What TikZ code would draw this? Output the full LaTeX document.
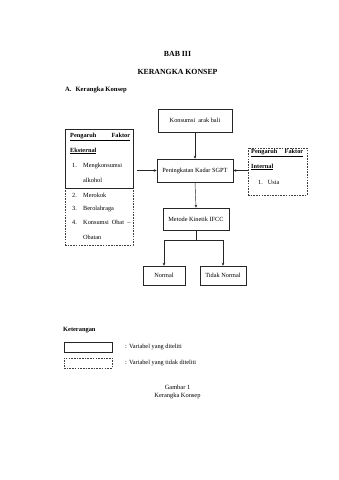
\documentclass[tikz,border=0pt]{standalone}
\usepackage{fontspec}
\setmainfont{Liberation Serif}
\usetikzlibrary{arrows.meta}
\tikzset{
  box/.style={draw=black!85, line width=0.5pt, inner sep=0pt, align=center, font=\fontsize{6.3}{7.4}\selectfont},
  dbox/.style={draw=black!75, line width=0.5pt, dash pattern=on 1.6pt off 1.1pt},
  sbox/.style={draw=black!85, line width=0.5pt},
  arr/.style={draw=black!85, line width=0.45pt, -{Stealth[length=3pt,width=2.6pt]}},
  ln/.style={draw=black!85, line width=0.45pt},
  txt/.style={inner sep=0pt, anchor=west, font=\fontsize{6.3}{7.4}\selectfont},
  ttl/.style={inner sep=0pt, font=\fontsize{7.8}{9}\selectfont\bfseries},
}
\begin{document}
\begin{tikzpicture}[x=1pt,y=-1pt]
\useasboundingbox (0,0) rectangle (339,480);
\fill[white] (0,0) rectangle (339,480);

% titles
\node[ttl] (bab) at (177.5,53.5) {BAB III};
\node[ttl] (kk) at (177.5,72) {KERANGKA KONSEP};
\node[txt, font=\fontsize{6.6}{8}\selectfont\bfseries] (sec) at (65,89.5) {A.\hspace{4pt}Kerangka Konsep};

% central boxes
\node[box, minimum width=74pt, minimum height=23pt] (kons) at (195,120.5) {Konsumsi\ \ arak bali};
\node[box, minimum width=76pt, minimum height=23pt] (pen) at (195,170.5) {Peningkatan Kadar SGPT};
\node[box, minimum width=66pt, minimum height=22pt] (ifcc) at (196,219) {Metode Kinetik IFCC};
\node[box, minimum width=42pt, minimum height=19pt] (nor) at (164,275.5) {Normal};
\node[box, minimum width=46pt, minimum height=19pt] (tnor) at (223,275.5) {Tidak Normal};

% left box (external factors)
\node[dbox, inner sep=0pt, minimum width=68pt, minimum height=116pt] (ext) at (99,187) {};
\draw[sbox] (65,129) rectangle (133,188);
\node[txt] (e1) at (70,137) {\underline{\makebox[60pt][s]{\bfseries Pengaruh\hfill Faktor}}};
\node[txt] (e2) at (70,151) {\underline{\bfseries Eksternal}};
\node[txt] (e3) at (72,166) {1.\hspace{6.3pt}Mengkonsumsi};
\node[txt] (e4) at (83,180) {alkohol};
\node[txt] (e5) at (72,195) {2.\hspace{6.3pt}Merokok};
\node[txt] (e6) at (72,208.5) {3.\hspace{6.3pt}Berolahraga};
\node[txt] (e7) at (72,222.5) {4.\hspace{6.3pt}Konsumsi\hspace{3pt}Obat\hspace{3.3pt}--};
\node[txt] (e8) at (83,237) {Obatan};

% right box (internal factors)
\node[dbox, inner sep=0pt, minimum width=59pt, minimum height=47pt] (int) at (277.5,171.5) {};
\node[txt] (i1) at (251,153) {\underline{\makebox[52pt][s]{\bfseries Pengaruh\hfill Faktor}}};
\node[txt] (i2) at (251,167) {\underline{\bfseries Internal}};
\node[txt] (i3) at (258,182) {1.\hspace{5pt}Usia};

% connectors
\coordinate (lstart) at (137,170.5);
\coordinate (rstart) at (248,170.5);
\draw[arr] (kons.south) -- (pen.north);
\draw[arr] (lstart) -- (pen.west);
\draw[arr] (rstart) -- (pen.east);
\draw[arr] (pen.south) -- (ifcc.north);
\coordinate (br) at (196,240);
\draw[ln] (ifcc.south) -- (br);
\draw[arr] (br) -| (nor.north);
\draw[arr] (br) -| (tnor.north);

% legend
\node[txt, font=\fontsize{6.4}{7.6}\selectfont\bfseries] (ket) at (63,330) {Keterangan};
\node[sbox, inner sep=0pt, minimum width=48pt, minimum height=10pt] (lg1) at (88,347) {};
\node[dbox, inner sep=0pt, minimum width=48pt, minimum height=10pt] (lg2) at (88,363) {};
\node[txt] (lt1) at (125,347) {: Variabel yang diteliti};
\node[txt] (lt2) at (125,363) {: Variabel yang tidak diteliti};

% caption
\node[inner sep=0pt, align=center, font=\fontsize{6.4}{8}\selectfont] (cap) at (177.5,391.5) {Gambar 1\\Kerangka Konsep};
\end{tikzpicture}
\end{document}
